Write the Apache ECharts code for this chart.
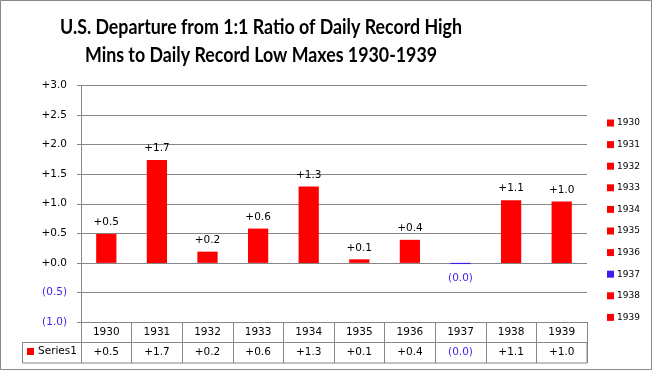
<!DOCTYPE html>
<html><head><meta charset="utf-8">
<script src="https://cdn.jsdelivr.net/npm/echarts@6/dist/echarts.min.js"></script>
<style>html,body{margin:0;padding:0;background:#fff}#c{width:652px;height:370px}</style>
</head><body><div id="c"></div>
<script>
const titleLines = ['U.S. Departure from 1:1 Ratio of Daily Record High', 'Mins to Daily Record Low Maxes 1930-1939'];
const categories = ['1930','1931','1932','1933','1934','1935','1936','1937','1938','1939'];
const seriesName = 'Series1';
const values = [0.49, 1.74, 0.19, 0.58, 1.29, 0.06, 0.39, -0.02, 1.06, 1.04];
const yTicks = [-1, -0.5, 0, 0.5, 1, 1.5, 2, 2.5, 3];

const RED = '#ff0000', BLUE = '#3c1ef0', GRID = '#868686', FONT = 'DejaVu Sans';
function fmt(v){ const r = Math.round(v*10)/10; return (v < 0 ? '(' + Math.abs(r).toFixed(1) + ')' : '+' + r.toFixed(1)); }
const colorOf = v => v < 0 ? BLUE : RED;
const textColorOf = v => v < 0 ? BLUE : '#000';

// condensed title: measure natural width, squeeze to the reference line width
const TITLE_FONT = 'bold 21px Lato';
const ctx = document.createElement('canvas').getContext('2d');
ctx.font = TITLE_FONT;
const titleScale = 402 / ctx.measureText(titleLines[0]).width;

const chart = echarts.init(document.getElementById('c'), null, {renderer:'canvas'});
const dummySeries = categories.map((c,i)=>({
  name: c, type:'bar', stack:'s', data: [], itemStyle:{color: colorOf(values[i])}
}));
chart.setOption({
  animation:false,
  backgroundColor:'#fff',
  legend:[{
    data: categories, orient:'vertical', left: 607, top: 117, padding:0,
    icon:'rect', itemWidth:7, itemHeight:7, itemGap:9.6,
    textStyle:{fontFamily:FONT, fontSize:9, lineHeight:12, color:'#000', padding:[0,0,0,-2]}, selectedMode:false
  },{
    data:[seriesName], left: 27, top: 346, padding:0, icon:'rect', itemWidth:7, itemHeight:7, itemGap:0,
    textStyle:{fontFamily:FONT, fontSize:10.5, color:'#000', padding:[0,0,0,-1]}, selectedMode:false
  }],
  grid:{left:81, right:65, top:85.5, bottom:48},
  xAxis:{
    type:'category', data: categories, position:'bottom',
    axisLine:{onZero:false, lineStyle:{color:GRID}},
    axisTick:{show:true, length:41, lineStyle:{color:GRID}},
    axisLabel:{
      margin:0, interval:0,
      formatter:(v,i)=> '{y|' + v + '}\n{' + (values[i] < 0 ? 'n' : 'p') + '|' + fmt(values[i]) + '}',
      rich:{
        y:{fontFamily:FONT, fontSize:10.5, color:'#000', lineHeight:20.5, height:20.5},
        p:{fontFamily:FONT, fontSize:10.5, color:'#000', lineHeight:20.5, height:20.5},
        n:{fontFamily:FONT, fontSize:10.5, color:BLUE, lineHeight:20.5, height:20.5}
      }
    }
  },
  yAxis:{
    type:'value', min:yTicks[0], max:yTicks[yTicks.length-1], interval:0.5,
    axisLine:{show:true, lineStyle:{color:GRID}},
    axisTick:{show:true, length:4, lineStyle:{color:GRID}},
    splitLine:{lineStyle:{color:GRID}},
    axisLabel:{fontFamily:FONT, fontSize:10.5, margin:14, formatter:v=>fmt(v), color:v=>textColorOf(v)}
  },
  series:[{
    name: seriesName, type:'bar', stack:'s', barCategoryGap:'60%',
    data: values.map(v=>({value:v, itemStyle:{color:colorOf(v)},
      label:{position: v<0 ? 'bottom':'top', color: textColorOf(v), distance: v<0 ? 9 : 6}})),
    itemStyle:{color:RED},
    label:{show:true, fontFamily:FONT, fontSize:10.5, formatter:p=>fmt(p.value)}
  }].concat(dummySeries),
  graphic:[
    {type:'rect', shape:{x:0.5,y:0.5,width:651,height:369}, style:{fill:'none', stroke:'#888', lineWidth:1}, silent:true},
    {type:'rect', shape:{x:22.5,y:342.5,width:564.5,height:20.5}, style:{fill:'none', stroke:GRID, lineWidth:1}, silent:true, z:-1}
  ].concat(titleLines.map((t,i)=>({
    type:'text', x:261, y: 27 + i*28, scaleX:titleScale, scaleY:1, silent:true,
    style:{text:t, x:0, y:0, font:TITLE_FONT, fill:'#000', align:'center', verticalAlign:'middle'}
  })))
});
</script></body></html>
